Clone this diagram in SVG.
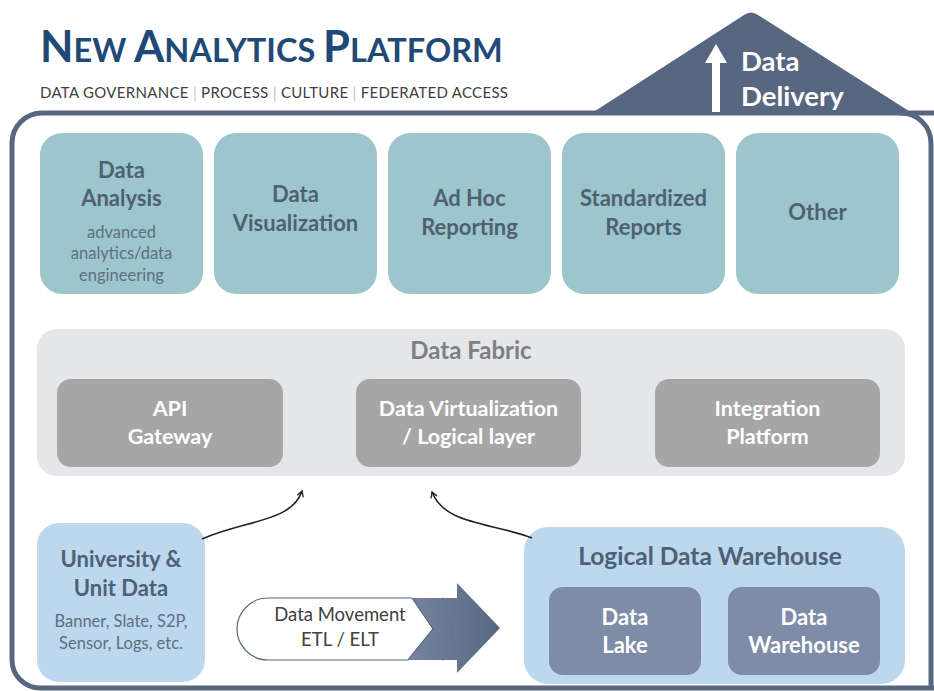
<svg xmlns="http://www.w3.org/2000/svg" width="934" height="691" viewBox="0 0 934 691">
<style>
text{font-family:Lato,"Open Sans","Liberation Sans",sans-serif;text-anchor:middle}
.top{fill:#9dc5cc}
.tt{font-size:22px;font-weight:bold;fill:#4e6174}
.ts{font-size:16.5px;fill:#5d6f80}
.fab{fill:#a6a6a6}
.ft{font-size:21.5px;font-weight:bold;fill:#ffffff}
.lb{fill:#bdd7ee}
.dk{fill:#7f8ca8}
.wt{font-size:22px;font-weight:bold;fill:#ffffff}
.conn{fill:none;stroke:#222;stroke-width:1.6}
</style>
<defs>
<marker id="ah" viewBox="0 0 10 10" refX="8" refY="5" markerWidth="8" markerHeight="8" orient="auto-start-reverse" markerUnits="userSpaceOnUse">
<path d="M1,1 L8,5 L1,9" fill="none" stroke="#222" stroke-width="1.6"/>
</marker>
<linearGradient id="ag" x1="0" y1="0" x2="1" y2="0">
<stop offset="0" stop-color="#7a88a3"/>
<stop offset="1" stop-color="#56677f"/>
</linearGradient>
</defs>
<rect width="934" height="691" fill="#ffffff"/>

<g id="title">
<text x="40" y="62" style="text-anchor:start;font-weight:bold;fill:#1f4a78"><tspan font-size="43.5">N</tspan><tspan font-size="32.5">EW </tspan><tspan font-size="43.5">A</tspan><tspan font-size="32.5">NALYTICS </tspan><tspan font-size="43.5">P</tspan><tspan font-size="32.5">LATFORM</tspan></text>
<text x="40" y="98" style="text-anchor:start;font-size:15px;fill:#404040" textLength="468">DATA GOVERNANCE <tspan fill="#bfbfbf">|</tspan> PROCESS <tspan fill="#bfbfbf">|</tspan> CULTURE <tspan fill="#bfbfbf">|</tspan> FEDERATED ACCESS</text>
</g>

<g id="frame">
<path d="M42,113 L934,113 M42,113 A30,30 0 0 0 12,143 L12,660 A28,28 0 0 0 40,688 L934,688" fill="none" stroke="#56677f" stroke-width="5"/>
<path d="M900,113 A30,30 0 0 1 931,143 L931,688" fill="none" stroke="#56677f" stroke-width="5"/>
</g>

<g id="roof">
<path d="M592,113 L744,15 Q751,10 758,15 L912,113 Z" fill="#56677f"/>
<path d="M712,112 L712,63 L705,63 L716,44 L727,63 L720,63 L720,112 Z" fill="#ffffff"/>
<text x="741" y="71" style="text-anchor:start;font-size:27.5px;font-weight:bold;fill:#ffffff">Data</text>
<text x="741" y="106" style="text-anchor:start;font-size:27.5px;font-weight:bold;fill:#ffffff">Delivery</text>
</g>

<g id="data-analysis">
<rect class="top" x="40" y="133" width="163" height="161" rx="22"/>
<text class="tt" x="121.5" y="178">Data</text>
<text class="tt" x="121.5" y="206">Analysis</text>
<text class="ts" x="121.5" y="238">advanced</text>
<text class="ts" x="121.5" y="259">analytics/data</text>
<text class="ts" x="121.5" y="281">engineering</text>
</g>
<g id="data-visualization">
<rect class="top" x="214" y="133" width="163" height="161" rx="22"/>
<text class="tt" x="295.5" y="202">Data</text>
<text class="tt" x="295.5" y="231">Visualization</text>
</g>
<g id="ad-hoc">
<rect class="top" x="388" y="133" width="163" height="161" rx="22"/>
<text class="tt" x="469.5" y="206">Ad Hoc</text>
<text class="tt" x="469.5" y="235">Reporting</text>
</g>
<g id="standardized">
<rect class="top" x="562" y="133" width="163" height="161" rx="22"/>
<text class="tt" x="643.5" y="206">Standardized</text>
<text class="tt" x="643.5" y="235">Reports</text>
</g>
<g id="other">
<rect class="top" x="736" y="133" width="163" height="161" rx="22"/>
<text class="tt" x="817.5" y="220">Other</text>
</g>

<g id="data-fabric">
<rect x="37" y="329" width="868" height="147" rx="20" fill="#e4e6ea"/>
<text x="471" y="359" style="font-size:24px;font-weight:bold;fill:#7f7f7f">Data Fabric</text>
</g>
<g id="api-gateway">
<rect class="fab" x="57" y="379" width="226" height="88" rx="14"/>
<text class="ft" x="170" y="416">API</text>
<text class="ft" x="170" y="444">Gateway</text>
</g>
<g id="data-virtualization">
<rect class="fab" x="356" y="379" width="225" height="88" rx="14"/>
<text class="ft" x="468.5" y="416">Data Virtualization</text>
<text class="ft" x="468.5" y="444">/ Logical layer</text>
</g>
<g id="integration-platform">
<rect class="fab" x="655" y="379" width="225" height="88" rx="14"/>
<text class="ft" x="767.5" y="416">Integration</text>
<text class="ft" x="767.5" y="444">Platform</text>
</g>

<g id="university-data">
<rect class="lb" x="37" y="523" width="168" height="159" rx="22"/>
<text class="tt" x="121" y="567">University &amp;</text>
<text class="tt" x="121" y="596">Unit Data</text>
<text class="ts" x="121" y="627">Banner, Slate, S2P,</text>
<text class="ts" x="121" y="649">Sensor, Logs, etc.</text>
</g>

<g id="data-movement">
<path d="M400,598 L457,598 L457,583 L500,628 L457,673 L457,660 L400,660 Z" fill="url(#ag)"/>
<path d="M442,598 Q470,628 442,660" fill="none" stroke="#6a7892" stroke-width="2"/>
<path d="M268,598 L412,598 L433,629 L408,660 L268,660 C250,660 237,645 237,629 C237,613 250,598 268,598 Z" fill="#ffffff" stroke="#56677f" stroke-width="1.2"/>
<text x="340" y="621" style="font-size:18.5px;fill:#404040">Data Movement</text>
<text x="340" y="646" style="font-size:18.5px;fill:#404040">ETL / ELT</text>
</g>

<g id="logical-dw">
<rect class="lb" x="524" y="527" width="381" height="157" rx="24"/>
<text x="710" y="565" style="font-size:24.5px;font-weight:bold;fill:#4e6174">Logical Data Warehouse</text>
</g>
<g id="data-lake">
<rect class="dk" x="549" y="587" width="152" height="88" rx="14"/>
<text class="wt" x="625" y="625">Data</text>
<text class="wt" x="625" y="653">Lake</text>
</g>
<g id="data-warehouse">
<rect class="dk" x="728" y="587" width="152" height="88" rx="14"/>
<text class="wt" x="804" y="625">Data</text>
<text class="wt" x="804" y="653">Warehouse</text>
</g>

<g id="connectors">
<path class="conn" d="M202,539 C245,520 292,522 302,491" marker-end="url(#ah)"/>
<path class="conn" d="M532,538 C490,522 445,525 432,492" marker-end="url(#ah)"/>
</g>
</svg>
